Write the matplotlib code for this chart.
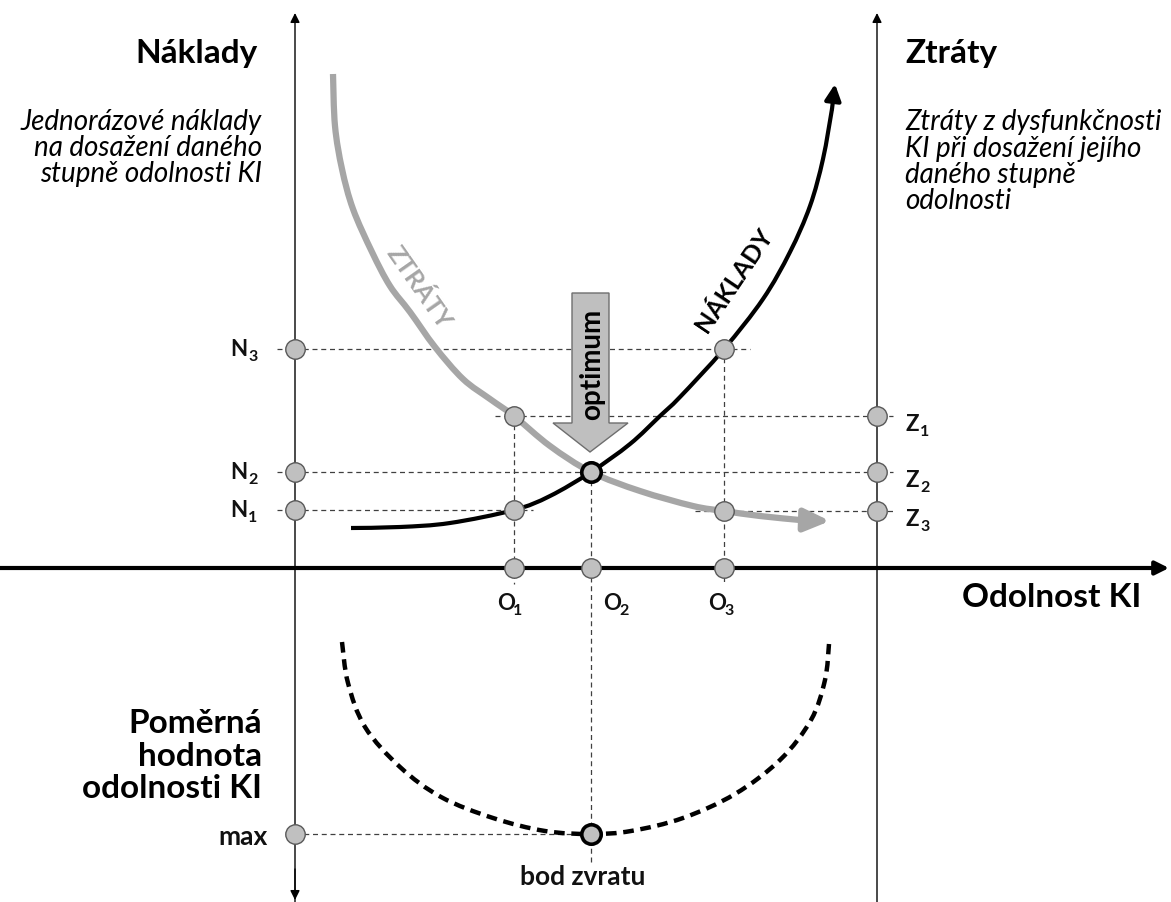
import matplotlib
matplotlib.use("Agg")
import matplotlib.pyplot as plt
from matplotlib.patches import Polygon, PathPatch
from matplotlib.path import Path

plt.rcParams['font.family'] = ['Lato', 'DejaVu Sans']

# ---- data (diagram coordinates, pixel-like units, y grows downwards) ----
O_x = [514, 591, 724]          # resilience levels O1, O2, O3
N_y = [511, 473, 350]          # cost levels N1, N2, N3
Z_y = [417, 473, 512]          # loss levels Z1, Z2, Z3
O_labels = ["1", "2", "3"]
N_labels = ["1", "2", "3"]
Z_labels = ["1", "2", "3"]

cost_x = [351, 400, 450, 514, 550, 591, 630, 660, 680, 724, 763, 790, 810, 823, 832]
cost_y = [529, 528, 524, 511, 497, 473, 445, 417, 398, 350, 300, 253, 207, 160, 110]
cost_tip = (835, 85)

loss_x = [333, 335, 342, 353, 372, 390, 410, 435, 463, 490, 514, 550, 591, 640, 693, 724, 760, 800]
loss_y = [75, 127, 170, 210, 253, 287, 313, 348, 380, 400, 417, 447, 473, 492, 507, 512, 517, 521]
loss_tip = (830, 522)

value_x = [342, 348, 365, 400, 441, 493, 545, 591, 631, 683, 735, 780, 811, 825, 829]
value_y = [643, 684, 728, 768, 798, 819, 832, 835, 832, 819, 795, 761, 721, 681, 645]
max_y = 835

AX_L, AX_R, AX_Y = 295, 877, 569


def smooth_path(xs, ys):
    """Smooth Bezier path passing through the given points (Catmull-Rom)."""
    pts = list(zip(xs, ys))
    verts = [pts[0]]
    codes = [Path.MOVETO]
    n = len(pts)
    for i in range(n - 1):
        p0 = pts[i - 1] if i > 0 else pts[i]
        p1, p2 = pts[i], pts[i + 1]
        p3 = pts[i + 2] if i + 2 < n else pts[i + 1]
        c1 = (p1[0] + (p2[0] - p0[0]) / 6, p1[1] + (p2[1] - p0[1]) / 6)
        c2 = (p2[0] - (p3[0] - p1[0]) / 6, p2[1] - (p3[1] - p1[1]) / 6)
        verts += [c1, c2, p2]
        codes += [Path.CURVE4] * 3
    return Path(verts, codes)


fig = plt.figure(figsize=(11.71, 9.03), dpi=100)
ax = fig.add_axes([0, 0, 1, 1])
ax.set_xlim(0, 1171)
ax.set_ylim(903, 0)
ax.axis('off')

# ---- axes ----
thin = dict(arrowstyle='-|>', lw=1, color='black', mutation_scale=14, shrinkA=0, shrinkB=0)
ax.annotate('', xy=(AX_L, 14), xytext=(AX_L, 903), arrowprops=thin)
ax.annotate('', xy=(AX_L, 901), xytext=(AX_L, 870), arrowprops=thin)
ax.annotate('', xy=(AX_R, 14), xytext=(AX_R, 903), arrowprops=thin)
ax.annotate('', xy=(1169, AX_Y), xytext=(0, AX_Y),
            arrowprops=dict(arrowstyle='-|>', lw=3, color='black', mutation_scale=20,
                            shrinkA=0, shrinkB=0), zorder=3)

# ---- dashed helper lines ----
dash = dict(color='#404040', lw=0.9, dashes=(4, 3), zorder=1)
ax.plot([277, 750], [N_y[2], N_y[2]], **dash)
ax.plot([277, 893], [N_y[1], N_y[1]], **dash)
ax.plot([277, 533], [N_y[0], N_y[0]], **dash)
ax.plot([495, 893], [Z_y[0], Z_y[0]], **dash)
ax.plot([695, 893], [Z_y[2], Z_y[2]], **dash)
ax.plot([O_x[0], O_x[0]], [Z_y[0], 585], **dash)
ax.plot([O_x[1], O_x[1]], [N_y[1], 863], **dash)
ax.plot([O_x[2], O_x[2]], [N_y[2], 585], **dash)
ax.plot([AX_L, O_x[1]], [max_y, max_y], **dash)

# ---- curves ----
ax.add_patch(PathPatch(smooth_path(loss_x, loss_y), fill=False, edgecolor='#a6a6a6',
                       lw=4.5, capstyle='butt', zorder=2))
ax.annotate('', xy=loss_tip, xytext=(loss_x[-1], loss_y[-1]),
            arrowprops=dict(arrowstyle='-|>,head_length=0.9,head_width=0.4', lw=4.5,
                            color='#a6a6a6', mutation_scale=17, shrinkA=0, shrinkB=0), zorder=2)
ax.add_patch(PathPatch(smooth_path(cost_x, cost_y), fill=False, edgecolor='black',
                       lw=3, capstyle='butt', zorder=2.5))
ax.annotate('', xy=cost_tip, xytext=(cost_x[-1], cost_y[-1]),
            arrowprops=dict(arrowstyle='-|>,head_length=0.8,head_width=0.4', lw=3,
                            color='black', mutation_scale=12, shrinkA=0, shrinkB=0), zorder=2.5)
ax.add_patch(PathPatch(smooth_path(value_x, value_y), fill=False, edgecolor='black',
                       lw=3.2, linestyle=(0, (2.4, 1.5)), zorder=2))

# ---- optimum arrow ----
arrow = Polygon([(572, 294), (609, 294), (609, 424), (628, 424), (590, 453),
                 (553, 424), (572, 424)], closed=True, facecolor='#bfbfbf',
                edgecolor='#6e6e6e', lw=1, zorder=2.2)
ax.add_patch(arrow)
ax.text(592, 364, 'optimum', rotation=90, ha='center', va='center',
        fontsize=20, fontweight='bold', zorder=4)

# ---- markers ----
mk = dict(marker='o', ms=14, mfc='#c0c0c0', mec='#595959', mew=1, ls='none', zorder=5)
ax.plot([AX_L] * 3, N_y, **mk)
ax.plot([AX_R] * 3, Z_y, **mk)
ax.plot(O_x, [AX_Y] * 3, **mk)
ax.plot([O_x[0], O_x[0], O_x[2], O_x[2]], [Z_y[0], N_y[0], N_y[2], Z_y[2]], **mk)
ax.plot([AX_L], [max_y], **mk)
mkb = dict(marker='o', ms=14, mfc='#c0c0c0', mec='black', mew=2.6, ls='none', zorder=6)
ax.plot([O_x[1]], [N_y[1]], **mkb)
ax.plot([O_x[1]], [max_y], **mkb)

# ---- labels with subscripts ----
lab = dict(fontsize=16, fontweight='bold', color='#111111', va='baseline')
sub = dict(fontsize=11.5, fontweight='bold', color='#111111', va='baseline')
for y, s in zip(N_y, N_labels):
    ax.text(247, y + 6, 'N', ha='right', **lab)
    ax.text(248, y + 11, s, ha='left', **sub)
for y, s in zip(Z_y, Z_labels):
    ax.text(905, y + 14, 'Z', ha='left', **lab)
    ax.text(920, y + 19, s, ha='left', **sub)
for x, s in zip([497, 603, 708], O_labels):
    ax.text(x, 610, 'O', ha='left', **lab)
    ax.text(x + 16, 615, s, ha='left', **sub)

# ---- titles ----
big = dict(fontsize=24, fontweight='bold', color='black', va='baseline')
ax.text(258, 63, 'Náklady', ha='right', **big)
ax.text(905, 63, 'Ztráty', ha='left', **big)
ax.text(1141, 607, 'Odolnost KI', ha='right', **big)
for yb, line in zip([733, 766, 798], ['Poměrná', 'hodnota', 'odolnosti KI']):
    ax.text(262, yb, line, ha='right', **big)

ita = dict(fontsize=20, fontstyle='italic', color='black', va='baseline')
for yb, line in zip([130, 156, 182],
                    ['Jednorázové náklady', 'na dosažení daného', 'stupně odolnosti KI']):
    ax.text(262, yb, line, ha='right', **ita)
for yb, line in zip([130, 157, 183, 209],
                    ['Ztráty z dysfunkčnosti', 'KI při dosažení jejího', 'daného stupně',
                     'odolnosti']):
    ax.text(905, yb, line, ha='left', **ita)

ax.text(419, 288, 'ZTRÁTY', rotation=-55, ha='center', va='center',
        fontsize=18, fontweight='bold', color='#a6a6a6')
ax.text(734, 280, 'NÁKLADY', rotation=56, ha='center', va='center',
        fontsize=18, fontweight='bold', color='black')

ax.text(268, 845, 'max', ha='right', va='baseline', fontsize=19, fontweight='bold',
        color='#111111')
ax.text(583, 885, 'bod zvratu', ha='center', va='baseline', fontsize=19,
        fontweight='bold', color='#111111')

fig.savefig('out.png', dpi=100)
